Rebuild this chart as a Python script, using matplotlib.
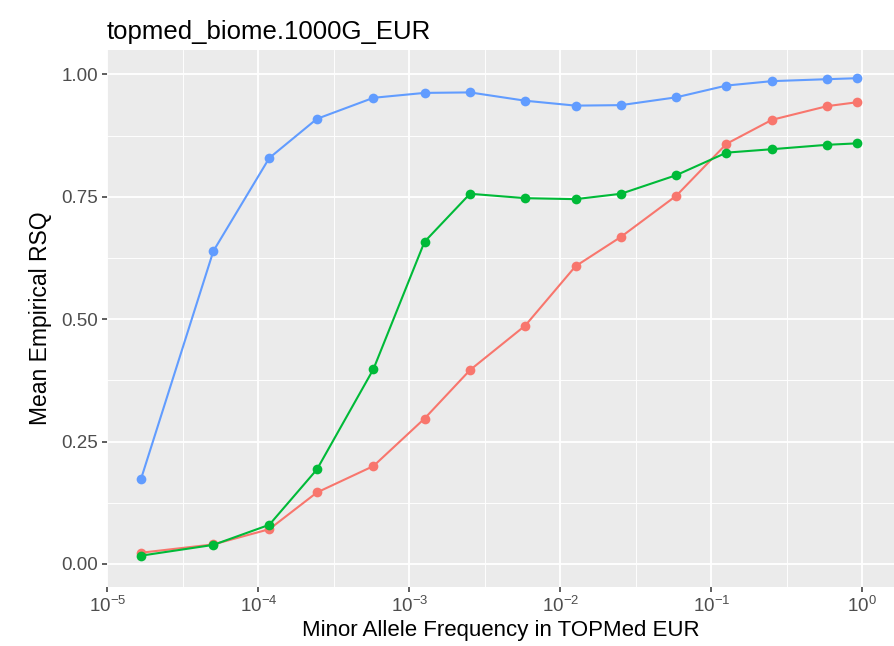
import numpy as np
import matplotlib
matplotlib.use("Agg")
import matplotlib.pyplot as plt
from matplotlib.ticker import FixedLocator, FuncFormatter

# values
maf = [1.67e-5, 5.03e-5, 1.18e-4, 2.44e-4, 5.78e-4, 1.26e-3, 2.52e-3, 5.86e-3,
       1.26e-2, 2.52e-2, 5.86e-2, 0.126, 0.252, 0.586, 0.927]
rsq_red = [0.023, 0.040, 0.071, 0.146, 0.200, 0.297, 0.396, 0.487,
           0.608, 0.668, 0.752, 0.858, 0.907, 0.935, 0.943]
rsq_green = [0.017, 0.039, 0.080, 0.193, 0.398, 0.658, 0.756, 0.747,
             0.745, 0.756, 0.794, 0.840, 0.847, 0.856, 0.859]
rsq_blue = [0.174, 0.639, 0.829, 0.909, 0.952, 0.962, 0.963, 0.946,
            0.936, 0.937, 0.953, 0.977, 0.986, 0.990, 0.992]

title = "topmed_biome.1000G_EUR"
xlabel = "Minor Allele Frequency in TOPMed EUR"
ylabel = "Mean Empirical RSQ"
yticks = [0.0, 0.25, 0.5, 0.75, 1.0]
xticks = [1e-5, 1e-4, 1e-3, 1e-2, 1e-1, 1e0]

plt.rcParams["font.family"] = ["Liberation Sans", "DejaVu Sans"]
plt.rcParams["mathtext.fontset"] = "custom"
plt.rcParams["mathtext.rm"] = "Liberation Sans"
plt.rcParams["mathtext.it"] = "Liberation Sans"

fig = plt.figure(figsize=(8.94, 6.46), dpi=100)
ax = fig.add_axes([107 / 894, 59 / 646, 1 - 107 / 894, 537 / 646])
ax.set_facecolor("#EBEBEB")

for vals, col in [(rsq_red, "#F8766D"), (rsq_green, "#00BA38"), (rsq_blue, "#619CFF")]:
    ax.plot(maf, vals, color=col, lw=1.5, marker="o", ms=7, mew=0, zorder=3)

ax.set_xscale("log")
ax.set_xlim(10 ** -5.003, 10 ** 0.21)
ax.set_ylim(-0.047, 1.0496)

ax.xaxis.set_major_locator(FixedLocator(xticks))
ax.xaxis.set_minor_locator(FixedLocator([10 ** (k + 0.5) for k in range(-5, 0)]))
ax.xaxis.set_major_formatter(FuncFormatter(lambda v, p: r"$10^{%d}$" % round(np.log10(v))))
ax.xaxis.set_minor_formatter(FuncFormatter(lambda v, p: ""))
ax.set_yticks(yticks)
ax.set_yticks([0.125, 0.375, 0.625, 0.875], minor=True)
ax.set_yticklabels(["0.00", "0.25", "0.50", "0.75", "1.00"])

ax.grid(which="major", color="white", lw=1.3)
ax.grid(which="minor", color="white", lw=0.65)
ax.set_axisbelow(True)
for s in ax.spines.values():
    s.set_visible(False)

ax.tick_params(which="major", length=3.5, width=1.1, color="#333333",
               labelcolor="#4D4D4D", labelsize=13.5, pad=3)
ax.tick_params(which="minor", length=0)

ax.set_xlabel(xlabel, fontsize=16, color="black", labelpad=3)
ax.set_ylabel(ylabel, fontsize=16.5, color="black", labelpad=7)
ax.set_title(title, fontsize=18.5, loc="left", pad=8)

fig.savefig("out.png", dpi=100)
